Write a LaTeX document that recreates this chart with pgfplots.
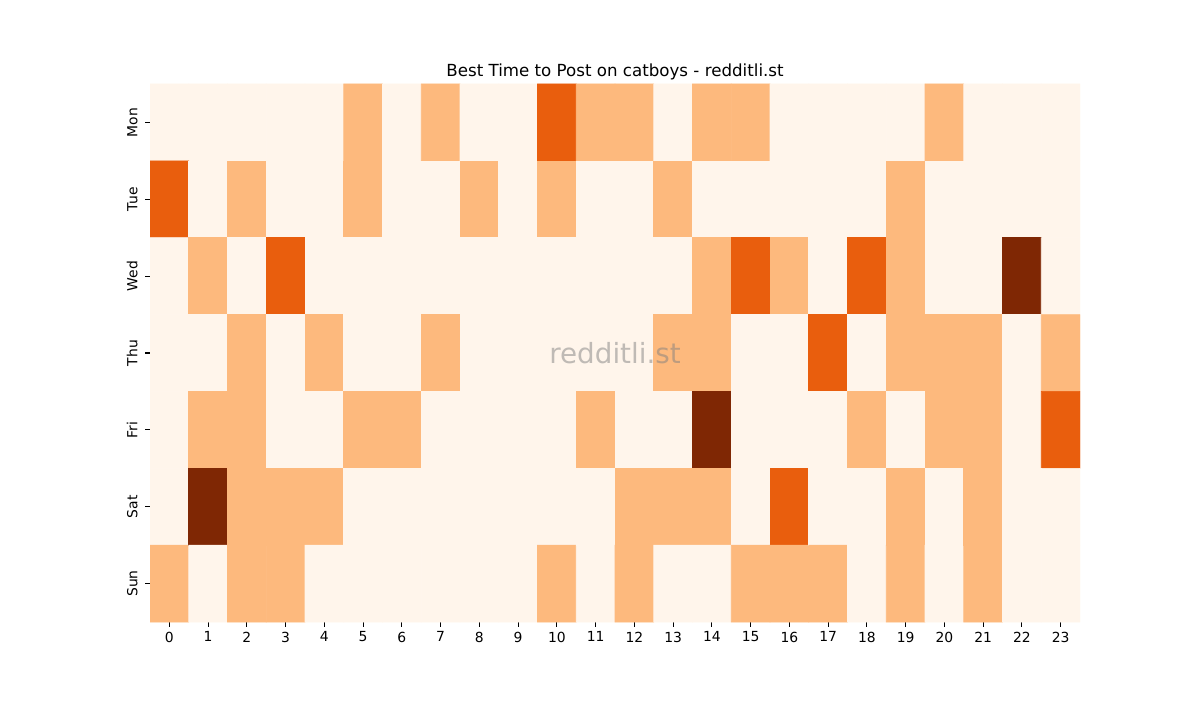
\documentclass[border=0pt]{standalone}
\usepackage{pgfplots}
\pgfplotsset{compat=1.18}
\usepackage{fontspec}
\setmainfont{DejaVu Sans}
\begin{document}
\begin{tikzpicture}[x=1pt,y=1pt]
\path[use as bounding box] (0,0) rectangle (864,504);
\begin{axis}[
  at={(108pt,56.16pt)}, anchor=south west,
  width=669.6pt, height=387.4pt, scale only axis,
  xmin=-0.5, xmax=23.5, ymin=-0.5, ymax=6.5, y dir=reverse,
  xtick={0,...,23}, ytick={0,...,6},
  yticklabels={Mon,Tue,Wed,Thu,Fri,Sat,Sun},
  yticklabel style={rotate=90, anchor=south, yshift=2pt, font=\fontsize{10}{12}\selectfont},
  xticklabel style={font=\fontsize{10}{12}\selectfont},
  /pgf/number format/assume math mode=true,
  axis line style={draw=none},
  tick align=outside, xtick pos=bottom, ytick pos=left,
  major tick length=3.5pt, tick style={black, line width=0.8pt},
  title={Best Time to Post on catboys - redditli.st},
  title style={font=\fontsize{12}{14}\selectfont, yshift=-6.5pt},
  colormap={oranges}{rgb255=(255,245,235) rgb255=(253,185,125) rgb255=(233,94,13) rgb255=(127,39,4)},
  point meta min=0, point meta max=3,
]
\addplot[matrix plot*, mesh/cols=24, point meta=explicit] coordinates {
(0,0)[0] (1,0)[0] (2,0)[0] (3,0)[0] (4,0)[0] (5,0)[1] (6,0)[0] (7,0)[1] (8,0)[0] (9,0)[0] (10,0)[2] (11,0)[1] (12,0)[1] (13,0)[0] (14,0)[1] (15,0)[1] (16,0)[0] (17,0)[0] (18,0)[0] (19,0)[0] (20,0)[1] (21,0)[0] (22,0)[0] (23,0)[0]

(0,1)[2] (1,1)[0] (2,1)[1] (3,1)[0] (4,1)[0] (5,1)[1] (6,1)[0] (7,1)[0] (8,1)[1] (9,1)[0] (10,1)[1] (11,1)[0] (12,1)[0] (13,1)[1] (14,1)[0] (15,1)[0] (16,1)[0] (17,1)[0] (18,1)[0] (19,1)[1] (20,1)[0] (21,1)[0] (22,1)[0] (23,1)[0]

(0,2)[0] (1,2)[1] (2,2)[0] (3,2)[2] (4,2)[0] (5,2)[0] (6,2)[0] (7,2)[0] (8,2)[0] (9,2)[0] (10,2)[0] (11,2)[0] (12,2)[0] (13,2)[0] (14,2)[1] (15,2)[2] (16,2)[1] (17,2)[0] (18,2)[2] (19,2)[1] (20,2)[0] (21,2)[0] (22,2)[3] (23,2)[0]

(0,3)[0] (1,3)[0] (2,3)[1] (3,3)[0] (4,3)[1] (5,3)[0] (6,3)[0] (7,3)[1] (8,3)[0] (9,3)[0] (10,3)[0] (11,3)[0] (12,3)[0] (13,3)[1] (14,3)[1] (15,3)[0] (16,3)[0] (17,3)[2] (18,3)[0] (19,3)[1] (20,3)[1] (21,3)[1] (22,3)[0] (23,3)[1]

(0,4)[0] (1,4)[1] (2,4)[1] (3,4)[0] (4,4)[0] (5,4)[1] (6,4)[1] (7,4)[0] (8,4)[0] (9,4)[0] (10,4)[0] (11,4)[1] (12,4)[0] (13,4)[0] (14,4)[3] (15,4)[0] (16,4)[0] (17,4)[0] (18,4)[1] (19,4)[0] (20,4)[1] (21,4)[1] (22,4)[0] (23,4)[2]

(0,5)[0] (1,5)[3] (2,5)[1] (3,5)[1] (4,5)[1] (5,5)[0] (6,5)[0] (7,5)[0] (8,5)[0] (9,5)[0] (10,5)[0] (11,5)[0] (12,5)[1] (13,5)[1] (14,5)[1] (15,5)[0] (16,5)[2] (17,5)[0] (18,5)[0] (19,5)[1] (20,5)[0] (21,5)[1] (22,5)[0] (23,5)[0]

(0,6)[1] (1,6)[0] (2,6)[1] (3,6)[1] (4,6)[0] (5,6)[0] (6,6)[0] (7,6)[0] (8,6)[0] (9,6)[0] (10,6)[1] (11,6)[0] (12,6)[1] (13,6)[0] (14,6)[0] (15,6)[1] (16,6)[1] (17,6)[1] (18,6)[0] (19,6)[1] (20,6)[0] (21,6)[1] (22,6)[0] (23,6)[0]
};
\node[text=black!50, opacity=0.5, font=\fontsize{20}{24}\selectfont] at (axis cs:11.5,3) {redditli.st};
\end{axis}
\end{tikzpicture}
\end{document}
